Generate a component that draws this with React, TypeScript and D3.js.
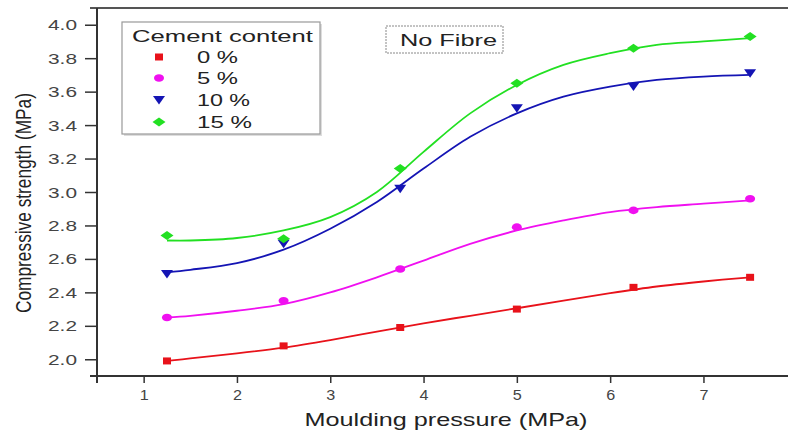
import React, { useRef, useEffect } from 'react';
import * as d3 from 'd3';

// measured points
const pressure = [1.25, 2.5, 3.75, 5, 6.25, 7.5];
const cement0 = [1.99, 2.08, 2.19, 2.30, 2.43, 2.49];
const cement5 = [2.25, 2.35, 2.54, 2.79, 2.89, 2.96];
const cement10 = [2.51, 2.69, 3.02, 3.50, 3.63, 3.71];
const cement15 = [2.74, 2.72, 3.14, 3.65, 3.86, 3.93];

// fitted curves
const fitX = [1.25, 1.5, 2, 2.5, 3, 3.5, 4, 4.5, 5, 5.5, 6, 6.5, 7, 7.5];
const fit0 = [1.99, 2.005, 2.035, 2.07, 2.115, 2.165, 2.215, 2.26, 2.305, 2.35, 2.395, 2.435, 2.465, 2.49];
const fit5 = [2.25, 2.26, 2.29, 2.33, 2.40, 2.49, 2.59, 2.69, 2.77, 2.83, 2.88, 2.91, 2.93, 2.95];
const fit10 = [2.52, 2.535, 2.575, 2.655, 2.78, 2.94, 3.14, 3.33, 3.47, 3.57, 3.63, 3.67, 3.69, 3.70];
const fit15 = [2.71, 2.71, 2.725, 2.77, 2.85, 3.00, 3.24, 3.47, 3.64, 3.76, 3.83, 3.88, 3.90, 3.92];

const seriesNames = ['0 %', '5 %', '10 %', '15 %'];
const xTicks = [1, 2, 3, 4, 5, 6, 7];
const xMinor = [0.5, 1.5, 2.5, 3.5, 4.5, 5.5, 6.5, 7.5];
const yTicks = [2.0, 2.2, 2.4, 2.6, 2.8, 3.0, 3.2, 3.4, 3.6, 3.8, 4.0];
const yMinor = [2.1, 2.3, 2.5, 2.7, 2.9, 3.1, 3.3, 3.5, 3.7, 3.9];

const colors = ['#e8121a', '#f010f0', '#1414b4', '#22e022'];
const shapes = ['square', 'circle', 'triangle', 'diamond'];
const FONT = '"Liberation Sans", Arial, sans-serif';

function markerPath(shape: string) {
  // horizontally stretched markers, like the picture
  switch (shape) {
    case 'square': return 'M-4,-3.5H4V3.5H-4Z';
    case 'circle': return 'M-5,0A5,3.8 0 1,0 5,0A5,3.8 0 1,0 -5,0Z';
    case 'triangle': return 'M-6,-4H6L0,4.5Z';
    default: return 'M-6.5,0L0,-4.5L6.5,0L0,4.5Z';
  }
}

export default function App() {
  const ref = useRef<SVGSVGElement>(null);

  useEffect(() => {
    const width = 788, height = 430;
    const svg = d3.select(ref.current);
    svg.selectAll('*').remove();

    const x = d3.scaleLinear().domain([0.5, 8]).range([97, 97 + 7.5 * 93.3]);
    const y = d3.scaleLinear().domain([1.9, 4.1]).range([376, 8]);

    svg.append('rect').attr('width', width).attr('height', height).attr('fill', '#fff');

    // top frame line
    svg.append('line')
      .attr('x1', 90).attr('x2', width).attr('y1', 8).attr('y2', 8)
      .attr('stroke', '#555').attr('stroke-width', 2);

    // y axis
    const gy = svg.append('g').attr('transform', 'translate(97,0)');
    gy.call(d3.axisLeft(y).tickValues(yMinor).tickSize(7).tickFormat(() => ''));
    gy.call(d3.axisLeft(y).tickValues(yTicks).tickSize(12).tickPadding(8).tickFormat(d3.format('.1f')));
    gy.selectAll('.domain').remove();
    gy.append('line').attr('y1', 8).attr('y2', 383).attr('stroke', '#333').attr('stroke-width', 2);
    gy.selectAll('.tick line').attr('stroke', '#333').attr('stroke-width', 1.5);
    gy.selectAll('.tick text')
      .attr('font-family', FONT).attr('font-size', 14).attr('fill', '#444')
      .attr('dy', '0.36em')
      .attr('textLength', 29).attr('lengthAdjust', 'spacingAndGlyphs');

    // x axis
    const gx = svg.append('g').attr('transform', 'translate(0,376)');
    gx.call(d3.axisBottom(x).tickValues(xMinor).tickSize(5).tickFormat(() => ''));
    gx.call(d3.axisBottom(x).tickValues(xTicks).tickSize(7).tickPadding(7).tickFormat(d3.format('d')));
    gx.selectAll('.domain').remove();
    gx.append('line').attr('x1', 90).attr('x2', width).attr('stroke', '#333').attr('stroke-width', 2);
    gx.selectAll('.tick line').attr('stroke', '#333').attr('stroke-width', 1.5);
    gx.selectAll('.tick text')
      .attr('font-family', FONT).attr('font-size', 14).attr('fill', '#444')
      .attr('textLength', 9).attr('lengthAdjust', 'spacingAndGlyphs');

    // axis titles
    svg.append('text')
      .attr('x', 446).attr('y', 426)
      .attr('text-anchor', 'middle')
      .attr('font-family', FONT).attr('font-size', 19).attr('fill', '#222')
      .attr('textLength', 283).attr('lengthAdjust', 'spacingAndGlyphs')
      .text('Moulding pressure (MPa)');
    svg.append('text')
      .attr('transform', 'translate(31,203) scale(1.35,1) rotate(-90)')
      .attr('text-anchor', 'middle')
      .attr('font-family', FONT).attr('font-size', 17).attr('fill', '#222')
      .attr('textLength', 220).attr('lengthAdjust', 'spacingAndGlyphs')
      .text('Compressive strength (MPa)');

    // fitted curves and markers
    const fits = [fit0, fit5, fit10, fit15];
    const values = [cement0, cement5, cement10, cement15];
    const line = d3.line<number>()
      .x((_, i) => x(fitX[i]))
      .y(d => y(d))
      .curve(d3.curveCatmullRom.alpha(0.5));

    fits.forEach((f, k) => {
      svg.append('path')
        .attr('d', line(f))
        .attr('fill', 'none')
        .attr('stroke', colors[k])
        .attr('stroke-width', 1.8);
    });
    values.forEach((vals, k) => {
      svg.append('g').selectAll('path')
        .data(vals)
        .join('path')
        .attr('transform', (d, i) => `translate(${x(pressure[i])},${y(d)})`)
        .attr('d', markerPath(shapes[k]))
        .attr('fill', colors[k]);
    });

    // legend
    const lg = svg.append('g');
    lg.append('rect')
      .attr('x', 124).attr('y', 24).attr('width', 198).attr('height', 112)
      .attr('fill', '#ddd');
    lg.append('rect')
      .attr('x', 122).attr('y', 22).attr('width', 198).attr('height', 112)
      .attr('fill', '#fff').attr('stroke', '#999').attr('stroke-width', 1.2);
    lg.append('text')
      .attr('x', 132).attr('y', 42)
      .attr('font-family', FONT).attr('font-size', 17).attr('fill', '#222')
      .attr('textLength', 181).attr('lengthAdjust', 'spacingAndGlyphs')
      .text('Cement content');
    const entryY = [57, 78, 100, 122];
    const entryLen = [41, 41, 53, 55];
    seriesNames.forEach((name, k) => {
      lg.append('path')
        .attr('transform', `translate(159,${entryY[k]})`)
        .attr('d', markerPath(shapes[k]))
        .attr('fill', colors[k]);
      lg.append('text')
        .attr('x', 197).attr('y', entryY[k] + 6)
        .attr('font-family', FONT).attr('font-size', 17).attr('fill', '#222')
        .attr('textLength', entryLen[k]).attr('lengthAdjust', 'spacingAndGlyphs')
        .text(name);
    });

    // annotation box
    svg.append('rect')
      .attr('x', 386).attr('y', 26).attr('width', 117).attr('height', 27)
      .attr('fill', '#fff').attr('stroke', '#888').attr('stroke-width', 1)
      .attr('stroke-dasharray', '2,1');
    svg.append('text')
      .attr('x', 400).attr('y', 46)
      .attr('font-family', FONT).attr('font-size', 17).attr('fill', '#222')
      .attr('textLength', 97).attr('lengthAdjust', 'spacingAndGlyphs')
      .text('No Fibre');
  }, []);

  return (
    <svg
      ref={ref}
      width={788}
      height={430}
      style={{ position: 'absolute', left: 0, top: 0, display: 'block' }}
    />
  );
}
